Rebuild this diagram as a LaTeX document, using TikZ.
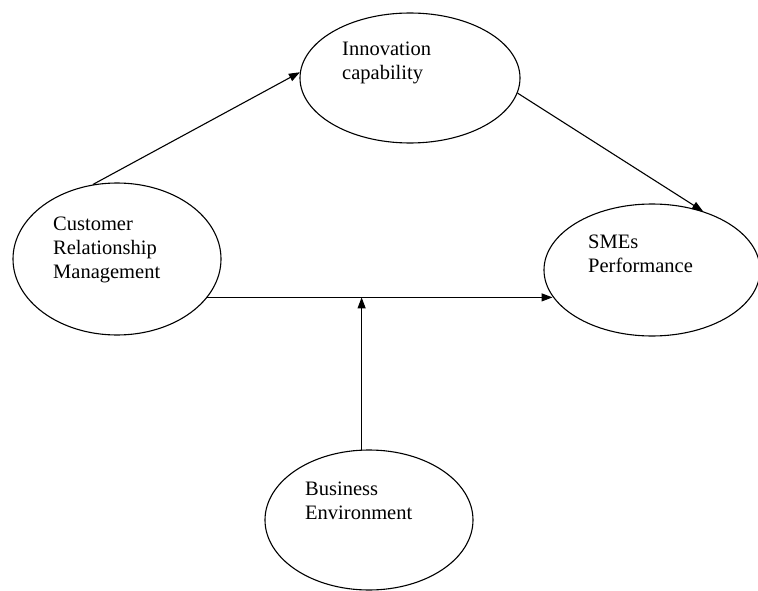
\documentclass[tikz,border=0pt]{standalone}
\usepackage{fontspec}
\setmainfont{Liberation Serif}
\usetikzlibrary{shapes.geometric}
\usetikzlibrary{arrows.meta}

\begin{document}
\begin{tikzpicture}[x=1pt,y=-1pt,>={Triangle[length=11pt,width=8pt]},
		oval/.style={ellipse,draw=black,line width=1.1pt,inner sep=0pt},
		lbl/.style={anchor=base west,inner sep=0pt,align=left,font=\fontsize{20.5}{24}\selectfont},
		link/.style={->,line width=1.1pt}]
		\useasboundingbox (0,0) rectangle (758,591);
		
		\node[oval]  (innov)  [minimum width=220pt,minimum height=130pt] at (410,78)  {};
		\node[oval]  (crm)    [minimum width=208pt,minimum height=152pt] at (117,259) {};
		\node[oval]  (smes)   [minimum width=216pt,minimum height=132pt] at (652,270) {};
		\node[oval]  (bus)    [minimum width=208pt,minimum height=140pt] at (369,520) {};
		
		% base of the last line
		\node[lbl]   (innovtext) at (342,80)  {Innovation\\capability};
		\node[lbl]   (crmtext)   at (53,278)  {Customer\\Relationship\\Management};
		\node[lbl]   (smestext)  at (588,272) {SMEs\\Performance};
		\node[lbl]   (bustext)   at (305,519) {Business\\Environment};
		
		\coordinate (join) at (bus.96 |- crm.-23);
		
		\draw[link] (crm.108) -- (innov.177);
		\draw[link] (innov.-8) -- (smes.49);
		\draw[link] (crm.-23) -- (crm.-23 -| smes.195);
		\draw[link] (bus.96) -- (join);
\end{tikzpicture}
\end{document}
